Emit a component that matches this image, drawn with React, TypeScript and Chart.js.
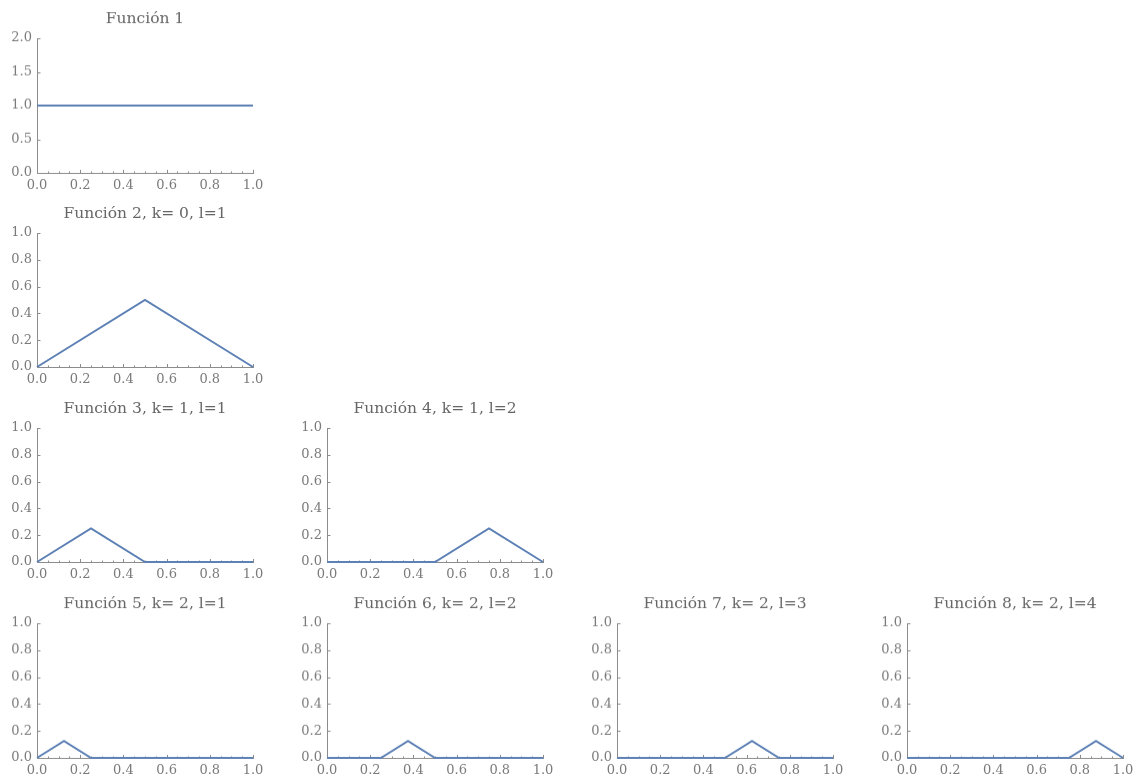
import React, { useEffect, useRef } from "react";
import { Chart, registerables } from "chart.js";

Chart.register(...registerables);

// ---- data ----
const titles = [
  "Función 1",
  "Función 2, k= 0, l=1",
  "Función 3, k= 1, l=1",
  "Función 4, k= 1, l=2",
  "Función 5, k= 2, l=1",
  "Función 6, k= 2, l=2",
  "Función 7, k= 2, l=3",
  "Función 8, k= 2, l=4",
];

const xs1 = [0, 1];
const ys1 = [1, 1];
const xs2 = [0, 0.5, 1];
const ys2 = [0, 0.5, 0];
const xs3 = [0, 0.25, 0.5, 1];
const ys3 = [0, 0.25, 0, 0];
const xs4 = [0, 0.5, 0.75, 1];
const ys4 = [0, 0, 0.25, 0];
const xs5 = [0, 0.125, 0.25, 1];
const ys5 = [0, 0.125, 0, 0];
const xs6 = [0, 0.25, 0.375, 0.5, 1];
const ys6 = [0, 0, 0.125, 0, 0];
const xs7 = [0, 0.5, 0.625, 0.75, 1];
const ys7 = [0, 0, 0.125, 0, 0];
const xs8 = [0, 0.75, 0.875, 1];
const ys8 = [0, 0, 0.125, 0];

const seriesX = [xs1, xs2, xs3, xs4, xs5, xs6, xs7, xs8];
const seriesY = [ys1, ys2, ys3, ys4, ys5, ys6, ys7, ys8];

const xTicks = [0, 0.2, 0.4, 0.6, 0.8, 1.0];
const yTicksFirst = [0, 0.5, 1.0, 1.5, 2.0];
const yTicksOther = [0, 0.2, 0.4, 0.6, 0.8, 1.0];

// ---- layout (positions only) ----
const panelRow = [0, 1, 2, 2, 3, 3, 3, 3];
const panelCol = [0, 0, 0, 1, 0, 1, 2, 3];
const rowTops = [38, 232.5, 427.5, 623];
const colLefts = [37, 327, 617, 907];
const PLOT_W = 216;
const PLOT_H = 134.5;
const LEFT_M = 37;
const TOP_M = 38;
const BOTTOM_M = 22;

const LINE_COLOR = "#5e81b5";
const AXIS_COLOR = "#8c8c8c";
const LABEL_COLOR = "#7a7a7a";
const TITLE_COLOR = "#666666";
const FONT = "'DejaVu Serif', serif";

const tickPlugin = {
  id: "mmaTicks",
  beforeDatasetsDraw(chart: any) {
    const { ctx, chartArea } = chart;
    const xs = chart.scales.x;
    const ys = chart.scales.y;
    ctx.save();
    ctx.strokeStyle = AXIS_COLOR;
    ctx.lineWidth = 1;
    const left = Math.round(chartArea.left) + 0.5;
    const bottom = Math.round(chartArea.bottom) + 0.5;
    ctx.beginPath();
    ctx.moveTo(left, chartArea.top);
    ctx.lineTo(left, bottom);
    ctx.lineTo(chartArea.right + 1, bottom);
    ctx.stroke();
    ctx.beginPath();
    for (let i = 0; i <= 20; i++) {
      const v = i * 0.05;
      const px = Math.round(xs.getPixelForValue(v)) + 0.5;
      const len = i % 4 === 0 ? 3.5 : 2;
      ctx.moveTo(px, bottom);
      ctx.lineTo(px, bottom - len);
    }
    const yt = chart.options.scales.y.ticks.values || [];
    for (const v of yt) {
      const py = Math.round(ys.getPixelForValue(v)) + 0.5;
      ctx.moveTo(left, py);
      ctx.lineTo(left + 3, py);
    }
    ctx.stroke();
    // title centered over the plot area
    const t = chart.options.plugins.panelTitle?.text;
    if (t) {
      ctx.fillStyle = TITLE_COLOR;
      ctx.font = `15.5px ${FONT}`;
      ctx.textAlign = "center";
      ctx.textBaseline = "middle";
      ctx.fillText(t, (chartArea.left + chartArea.right) / 2, chartArea.top - 19.5);
    }
    ctx.restore();
  },
};

function Panel({ idx }: { idx: number }) {
  const ref = useRef<HTMLCanvasElement>(null);
  const row = panelRow[idx];
  const col = panelCol[idx];
  const yTicks = idx === 0 ? yTicksFirst : yTicksOther;
  const yMax = idx === 0 ? 2 : 1;
  const width = LEFT_M * 2 + PLOT_W;
  const height = TOP_M + PLOT_H + BOTTOM_M;
  const left = colLefts[col] - LEFT_M;
  const top = rowTops[row] - TOP_M;

  useEffect(() => {
    if (!ref.current) return;
    const data = seriesX[idx].map((x, i) => ({ x, y: seriesY[idx][i] }));
    const chart = new Chart(ref.current, {
      type: "line",
      data: {
        datasets: [
          {
            data,
            borderColor: LINE_COLOR,
            borderWidth: 2,
            pointRadius: 0,
            fill: false,
            tension: 0,
            clip: false as any,
          },
        ],
      },
      options: {
        responsive: false,
        animation: false,
        devicePixelRatio: 1,
        events: [],
        layout: { padding: { left: 0, right: LEFT_M, top: TOP_M, bottom: 0 } },
        plugins: {
          legend: { display: false },
          tooltip: { enabled: false },
          title: { display: false },
          panelTitle: { text: titles[idx] },
        } as any,
        scales: {
          x: {
            type: "linear",
            min: 0,
            max: 1,
            grid: { display: false, drawTicks: false },
            border: { display: false },
            afterFit: (s: any) => {
              s.height = BOTTOM_M;
            },
            afterBuildTicks: (s: any) => {
              s.ticks = xTicks.map((v) => ({ value: v }));
            },
            ticks: {
              padding: 5,
              maxRotation: 0,
              autoSkip: false,
              color: LABEL_COLOR,
              font: { family: FONT, size: 13 },
              callback: (v: any) => Number(v).toFixed(1),
            },
          },
          y: {
            type: "linear",
            min: 0,
            max: yMax,
            grid: { display: false, drawTicks: false },
            border: { display: false },
            afterFit: (s: any) => {
              s.width = LEFT_M;
            },
            afterBuildTicks: (s: any) => {
              s.ticks = yTicks.map((v) => ({ value: v }));
            },
            ticks: {
              values: yTicks,
              padding: 5,
              autoSkip: false,
              color: LABEL_COLOR,
              font: { family: FONT, size: 13 },
              callback: (v: any) => Number(v).toFixed(1),
            } as any,
          },
        },
      },
      plugins: [tickPlugin],
    });
    return () => chart.destroy();
  }, [idx]);

  return (
    <canvas
      ref={ref}
      width={width}
      height={height}
      style={{ position: "absolute", left, top, width, height }}
    />
  );
}

export default function App() {
  return (
    <div
      style={{
        position: "absolute",
        left: 0,
        top: 0,
        width: 1140,
        height: 778,
        background: "#ffffff",
        overflow: "hidden",
      }}
    >
      {titles.map((_, i) => (
        <Panel key={i} idx={i} />
      ))}
    </div>
  );
}
